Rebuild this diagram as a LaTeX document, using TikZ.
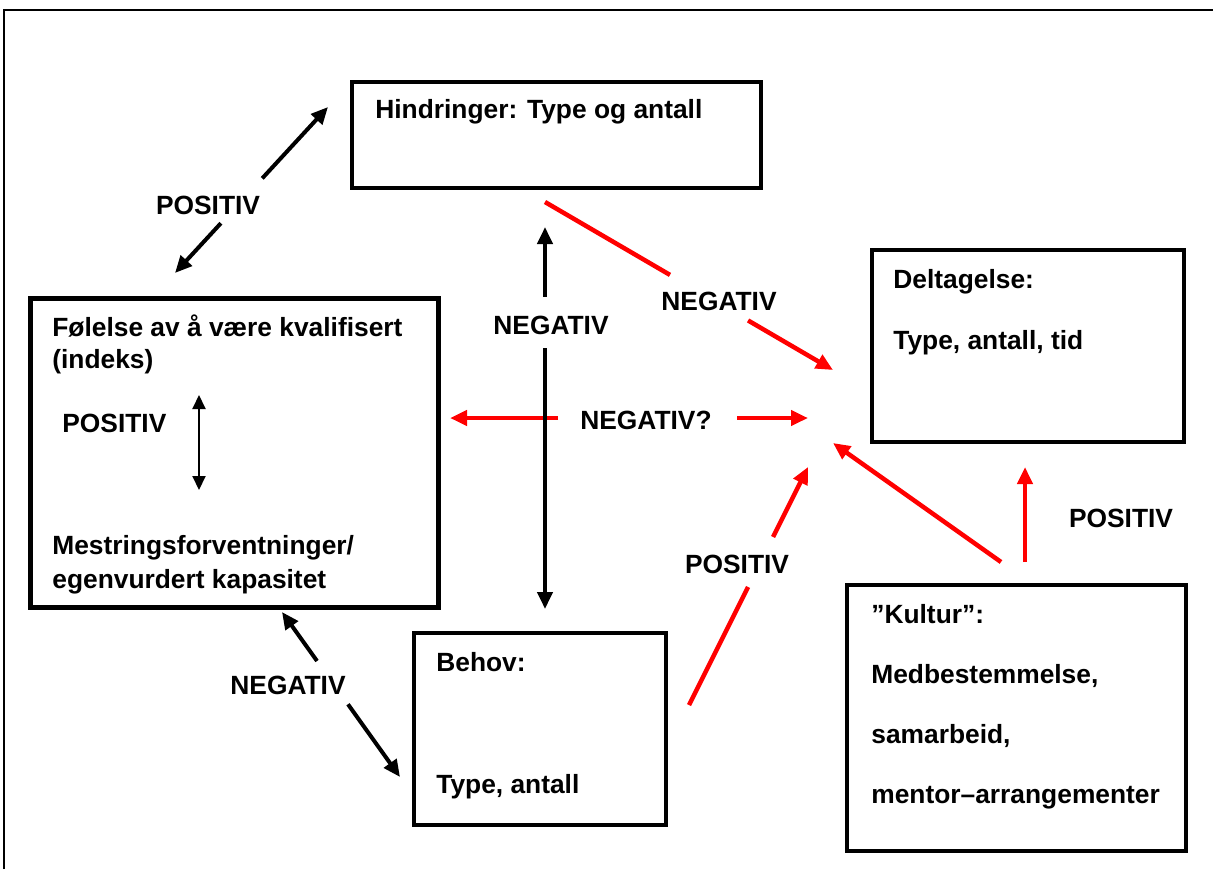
\documentclass[tikz,border=0pt]{standalone}
\usepackage{fontspec}
\setmainfont{Liberation Sans}
\usetikzlibrary{arrows.meta,fit}
\tikzset{
  box/.style={draw, line width=#1, inner sep=0pt},
  box/.default=0.07cm,
  txt/.style={inner sep=0pt, anchor=base west},
  lbl/.style={inner sep=0pt},
  blk/.style={line width=0.08cm, -{Triangle[length=0.34cm,width=0.3cm]}},
  rd/.style={color=red, line width=0.09cm, -{Triangle[length=0.34cm,width=0.3cm]}},
  thin arrow/.style={line width=0.04cm, {Triangle[length=0.28cm,width=0.26cm]}-{Triangle[length=0.28cm,width=0.26cm]}}
}
\begin{document}
\begin{tikzpicture}[x=0.02cm,y=-0.02cm,font=\fontsize{15}{18}\selectfont\bfseries]
\useasboundingbox (0,0) rectangle (1213,869);

% Frame
\draw [line width=0.04cm] (4,869) -- (4,10) -- (1213,10);

% Box Hindringer
\node [box=0.065cm, fit={(352,82) (761,188)}] (hind) {};
\node [txt] (hindT) at (375,118) {Hindringer: Type og antall};

% Box Deltagelse
\node [box, fit={(872,250) (1184,442)}] (delt) {};
\node [txt] (deltT) at (893,288) {Deltagelse:};
\node [txt] (deltB) at (893,349) {Type, antall, tid};

% Box Folelse
\node [box=0.1cm, fit={(30,298) (438,607)}] (fol) {};
\node [txt] (folA) at (52,336) {Følelse av å være kvalifisert};
\node [txt] (folB) at (52,368) {(indeks)};
\node [txt] (folP) at (62,432) {POSITIV};
\node [txt] (folC) at (52,554) {Mestringsforventninger/};
\node [txt] (folD) at (52,588) {egenvurdert kapasitet};
\coordinate (folUp) at (199,395);
\coordinate (folDn) at (199,490);
\draw [thin arrow] (folUp) -- (folDn);

% Box Behov
\node [box, fit={(414,633) (666,825)}] (behov) {};
\node [txt] (behovT) at (436,671) {Behov:};
\node [txt] (behovB) at (436,793) {Type, antall};

% Box Kultur
\node [box=0.085cm, fit={(847,585) (1186,851)}] (kult) {};
\node [txt] (kultA) at (871,623) {”Kultur”:};
\node [txt] (kultB) at (871,683) {Medbestemmelse,};
\node [txt] (kultC) at (871,743) {samarbeid,};
\node [txt] (kultD) at (871,803) {mentor–arrangementer};

% Red arrows
\coordinate (hindR) at (545,202);
\coordinate (deltL) at (833,370);
\node [lbl] (negD) at (719,301) {NEGATIV};
\path (hindR) -- (deltL) coordinate[pos=0.434] (negD1) coordinate[pos=0.705] (negD2);
\draw [rd, -] (hindR) -- (negD1);
\draw [rd] (negD2) -- (deltL);

\coordinate (folR) at (450,418);
\coordinate (midR) at (808,418);
\node [lbl] (negQ) at (646,420) {NEGATIV?};
\path (folR) -- (midR) coordinate[pos=0.302] (negQ1) coordinate[pos=0.802] (negQ2);
\draw [rd] (negQ1) -- (folR);
\draw [rd] (negQ2) -- (midR);

\coordinate (behovR) at (689,705);
\coordinate (deltBL) at (808,467);
\node [lbl] (posB) at (737,564) {POSITIV};
\path (behovR) -- (deltBL) coordinate[pos=0.496] (posB1) coordinate[pos=0.706] (posB2);
\draw [rd, -] (behovR) -- (posB1);
\draw [rd] (posB2) -- (deltBL);

\coordinate (kultL) at (1001,562);
\coordinate (deltC) at (833,443);
\draw [rd] (kultL) -- (deltC);

\coordinate (kultT) at (1025,562);
\coordinate (deltD) at (1025,467);
\draw [rd] (kultT) -- (deltD);
\node [lbl] (posK) at (1121,518) {POSITIV};

% Black arrows
\coordinate (folT) at (175,273);
\coordinate (hindL) at (328,107);
\node [lbl] (posA) at (208,205) {POSITIV};
\path (folT) -- (hindL) coordinate[pos=0.30] (posA1) coordinate[pos=0.57] (posA2);
\draw [blk] (posA1) -- (folT);
\draw [blk] (posA2) -- (hindL);

\coordinate (hindB) at (545,227);
\coordinate (behovT) at (545,609);
\node [lbl] (negV) at (551,325) {NEGATIV};
\path (hindB) -- (behovT) coordinate[pos=0.183] (negV1) coordinate[pos=0.317] (negV2);
\draw [blk] (negV1) -- (hindB);
\draw [blk] (negV2) -- (behovT);

\coordinate (folB) at (282,612);
\coordinate (behovL) at (400,777);
\node [lbl] (negL) at (288,685) {NEGATIV};
\path (folB) -- (behovL) coordinate[pos=0.297] (negL1) coordinate[pos=0.559] (negL2);
\draw [blk] (negL1) -- (folB);
\draw [blk] (negL2) -- (behovL);
\end{tikzpicture}
\end{document}
